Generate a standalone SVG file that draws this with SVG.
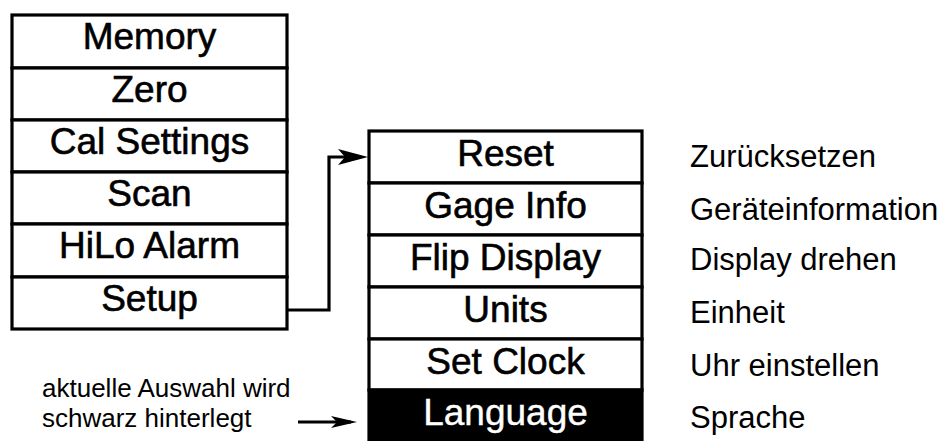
<svg xmlns="http://www.w3.org/2000/svg" width="947" height="441" viewBox="0 0 947 441">
<defs>
<style>
.box{fill:#fff;stroke:#000;stroke-width:3.2}
.sel{fill:#000;stroke:#000;stroke-width:3.2}
.t{font-family:"Liberation Sans",Arial,sans-serif;font-size:37px;fill:#000;stroke:#000;stroke-width:0.6;text-anchor:middle}
.tw{font-family:"Liberation Sans",Arial,sans-serif;font-size:37px;fill:#fff;stroke:#fff;stroke-width:0.4;text-anchor:middle}
.lab{font-family:"Liberation Sans",Arial,sans-serif;font-size:31px;fill:#000}
.note{font-family:"Liberation Sans",Arial,sans-serif;font-size:26px;fill:#000}
.wire{fill:none;stroke:#000;stroke-width:3.2}
</style>
<marker id="ah" markerUnits="userSpaceOnUse" markerWidth="32" markerHeight="18" refX="22" refY="9" orient="auto" viewBox="0 0 32 18">
<path d="M0,1 L30,9 L0,17 L7,9 z" fill="#000"/>
</marker>
<marker id="ah2" markerUnits="userSpaceOnUse" markerWidth="28" markerHeight="14" refX="20" refY="7" orient="auto" viewBox="0 0 28 14">
<path d="M0,1 L26,7 L0,13 L6,7 z" fill="#000"/>
</marker>
</defs>
<rect width="947" height="441" fill="#fff"/>
<g id="main-menu">
<g id="memory"><rect class="box" x="12" y="15" width="275" height="53"/><text class="t" x="149.5" y="49">Memory</text></g>
<g id="zero"><rect class="box" x="12" y="68" width="275" height="52"/><text class="t" x="149.5" y="102">Zero</text></g>
<g id="cal-settings"><rect class="box" x="12" y="120" width="275" height="52"/><text class="t" x="149.5" y="154">Cal Settings</text></g>
<g id="scan"><rect class="box" x="12" y="172" width="275" height="52"/><text class="t" x="149.5" y="206">Scan</text></g>
<g id="hilo-alarm"><rect class="box" x="12" y="224" width="275" height="53"/><text class="t" x="149.5" y="258">HiLo Alarm</text></g>
<g id="setup"><rect class="box" x="12" y="277" width="275" height="52"/><text class="t" x="149.5" y="311">Setup</text></g>
</g>
<g id="setup-menu">
<g id="reset"><rect class="box" x="369" y="131" width="273" height="52"/><text class="t" x="505.5" y="166">Reset</text></g>
<g id="gage-info"><rect class="box" x="369" y="183" width="273" height="52"/><text class="t" x="505.5" y="218">Gage Info</text></g>
<g id="flip-display"><rect class="box" x="369" y="235" width="273" height="52"/><text class="t" x="505.5" y="270">Flip Display</text></g>
<g id="units"><rect class="box" x="369" y="287" width="273" height="52"/><text class="t" x="505.5" y="322">Units</text></g>
<g id="set-clock"><rect class="box" x="369" y="339" width="273" height="51"/><text class="t" x="505.5" y="374">Set Clock</text></g>
<g id="language"><rect class="sel" x="369" y="390" width="273" height="54"/><text class="tw" x="505.5" y="425">Language</text></g>
</g>
<g id="translations">
<text class="lab" x="690" y="167">Zurücksetzen</text>
<text class="lab" x="690" y="220">Geräteinformation</text>
<text class="lab" x="690" y="270">Display drehen</text>
<text class="lab" x="690" y="323">Einheit</text>
<text class="lab" x="690" y="376">Uhr einstellen</text>
<text class="lab" x="690" y="428">Sprache</text>
</g>
<g id="note">
<text class="note" x="42" y="397">aktuelle Auswahl wird</text>
<text class="note" x="42" y="427">schwarz hinterlegt</text>
</g>
<g id="connectors">
<path class="wire" d="M287,310 H329 V157 H360" marker-end="url(#ah)"/>
<path class="wire" d="M298,422 H351" marker-end="url(#ah2)"/>
</g>
</svg>
